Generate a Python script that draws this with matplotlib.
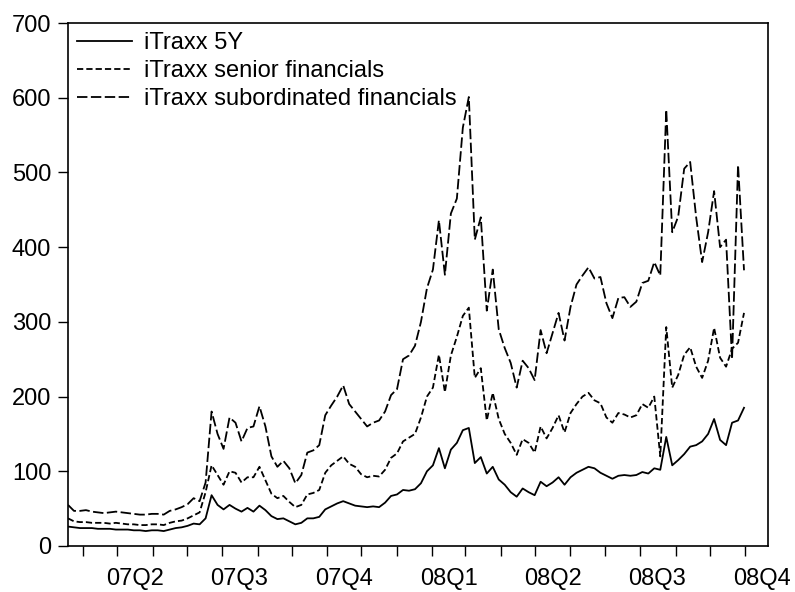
import matplotlib
matplotlib.use('Agg')
import matplotlib.pyplot as plt
import matplotlib.dates as mdates
import pandas as pd

itraxx_5y = [26, 25, 24, 24, 24, 23, 23, 23, 22, 22, 22, 21, 21, 20, 21, 21, 20, 22, 24, 25,
             27, 30, 29, 37, 68, 55, 49, 55, 50, 46, 51, 46, 54, 48, 40, 36, 37, 33, 29, 31,
             37, 37, 39, 49, 53, 57, 60, 57, 54, 53, 52, 53, 52, 58, 67, 69, 75, 74, 76, 84,
             100, 108, 131, 104, 129, 138, 155, 158, 111, 119, 97, 106, 89, 82, 72, 66, 77, 72, 68, 86,
             80, 85, 92, 82, 92, 98, 102, 106, 104, 98, 94, 90, 94, 95, 94, 95, 99, 97, 104, 102,
             146, 108, 115, 123, 133, 135, 140, 150, 170, 142, 135, 165, 168, 185]
itraxx_senior = [37, 33, 32, 32, 31, 31, 31, 30, 31, 30, 29, 29, 28, 28, 29, 29, 28, 31, 33, 34,
                 37, 41, 45, 72, 108, 95, 82, 100, 98, 85, 92, 92, 106, 88, 70, 64, 67, 59, 52, 55,
                 69, 71, 75, 98, 108, 114, 120, 110, 106, 96, 92, 94, 93, 102, 118, 124, 140, 145, 150, 172,
                 200, 212, 256, 206, 255, 280, 308, 319, 225, 238, 168, 205, 170, 150, 138, 122, 143, 138, 125, 160,
                 144, 158, 175, 152, 178, 190, 200, 205, 195, 191, 172, 165, 178, 176, 172, 175, 190, 185, 200, 120,
                 293, 212, 229, 256, 266, 240, 225, 248, 292, 252, 240, 264, 272, 312]
itraxx_sub = [55, 47, 47, 48, 46, 45, 44, 45, 46, 45, 44, 43, 42, 42, 43, 43, 42, 47, 49, 52,
              56, 64, 60, 85, 180, 150, 130, 172, 165, 140, 158, 160, 187, 160, 120, 106, 114, 104, 84, 95,
              125, 128, 135, 175, 188, 200, 215, 190, 180, 170, 160, 165, 168, 180, 202, 210, 250, 255, 268, 300,
              345, 370, 436, 363, 445, 465, 560, 601, 410, 440, 315, 370, 290, 265, 245, 212, 248, 238, 222, 289,
              258, 285, 312, 275, 320, 350, 362, 373, 358, 360, 325, 305, 332, 333, 320, 327, 352, 355, 380, 362,
              584, 420, 441, 505, 514, 440, 380, 420, 475, 400, 410, 250, 510, 369]

dates = pd.date_range('2007-03-19', '2008-10-31', periods=len(itraxx_5y))
quarters = pd.date_range('2007-04-01', '2009-01-01', freq='QS')
quarter_labels = ['07Q2', '07Q3', '07Q4', '08Q1', '08Q2', '08Q3', '08Q4']

plt.rcParams['font.family'] = ['Liberation Sans', 'DejaVu Sans']
plt.rcParams['lines.scale_dashes'] = False

fig = plt.figure(figsize=(7.95, 5.92), dpi=100)
ax = fig.add_axes([68 / 795, 1 - 546 / 592, 700 / 795, 523 / 592])

ax.plot(dates, itraxx_5y, color='black', lw=1.3, label='iTraxx 5Y')
ax.plot(dates, itraxx_senior, color='black', lw=1.3, dashes=(4.5, 2.2), label='iTraxx senior financials')
ax.plot(dates, itraxx_sub, color='black', lw=1.3, dashes=(7.5, 2.5), label='iTraxx subordinated financials')

ax.set_ylim(0, 700)
ax.set_yticks(range(0, 701, 100))
ax.set_xlim(pd.Timestamp('2007-03-19'), pd.Timestamp('2008-11-21'))

# month ticks without labels, quarter names centred in each quarter
ax.xaxis.set_major_locator(mdates.MonthLocator())
ax.xaxis.set_major_formatter(plt.NullFormatter())
mids = [quarters[i] + (quarters[i + 1] - quarters[i]) / 2 for i in range(len(quarter_labels))]
ax.set_xticks(mids, minor=True)
ax.set_xticklabels(quarter_labels, minor=True)
ax.tick_params(axis='x', which='major', direction='out', length=7, width=1)
ax.tick_params(axis='x', which='minor', length=0, pad=16, labelsize=17)
ax.tick_params(axis='y', direction='out', length=7, width=1, pad=5, labelsize=17)

for s in ax.spines.values():
    s.set_linewidth(1.2)

ax.legend(loc='upper left', frameon=False, fontsize=17, handlelength=2.3,
          handletextpad=0.5, labelspacing=0.25, borderaxespad=0.3, borderpad=0.1)

fig.savefig('out.png', dpi=100)
